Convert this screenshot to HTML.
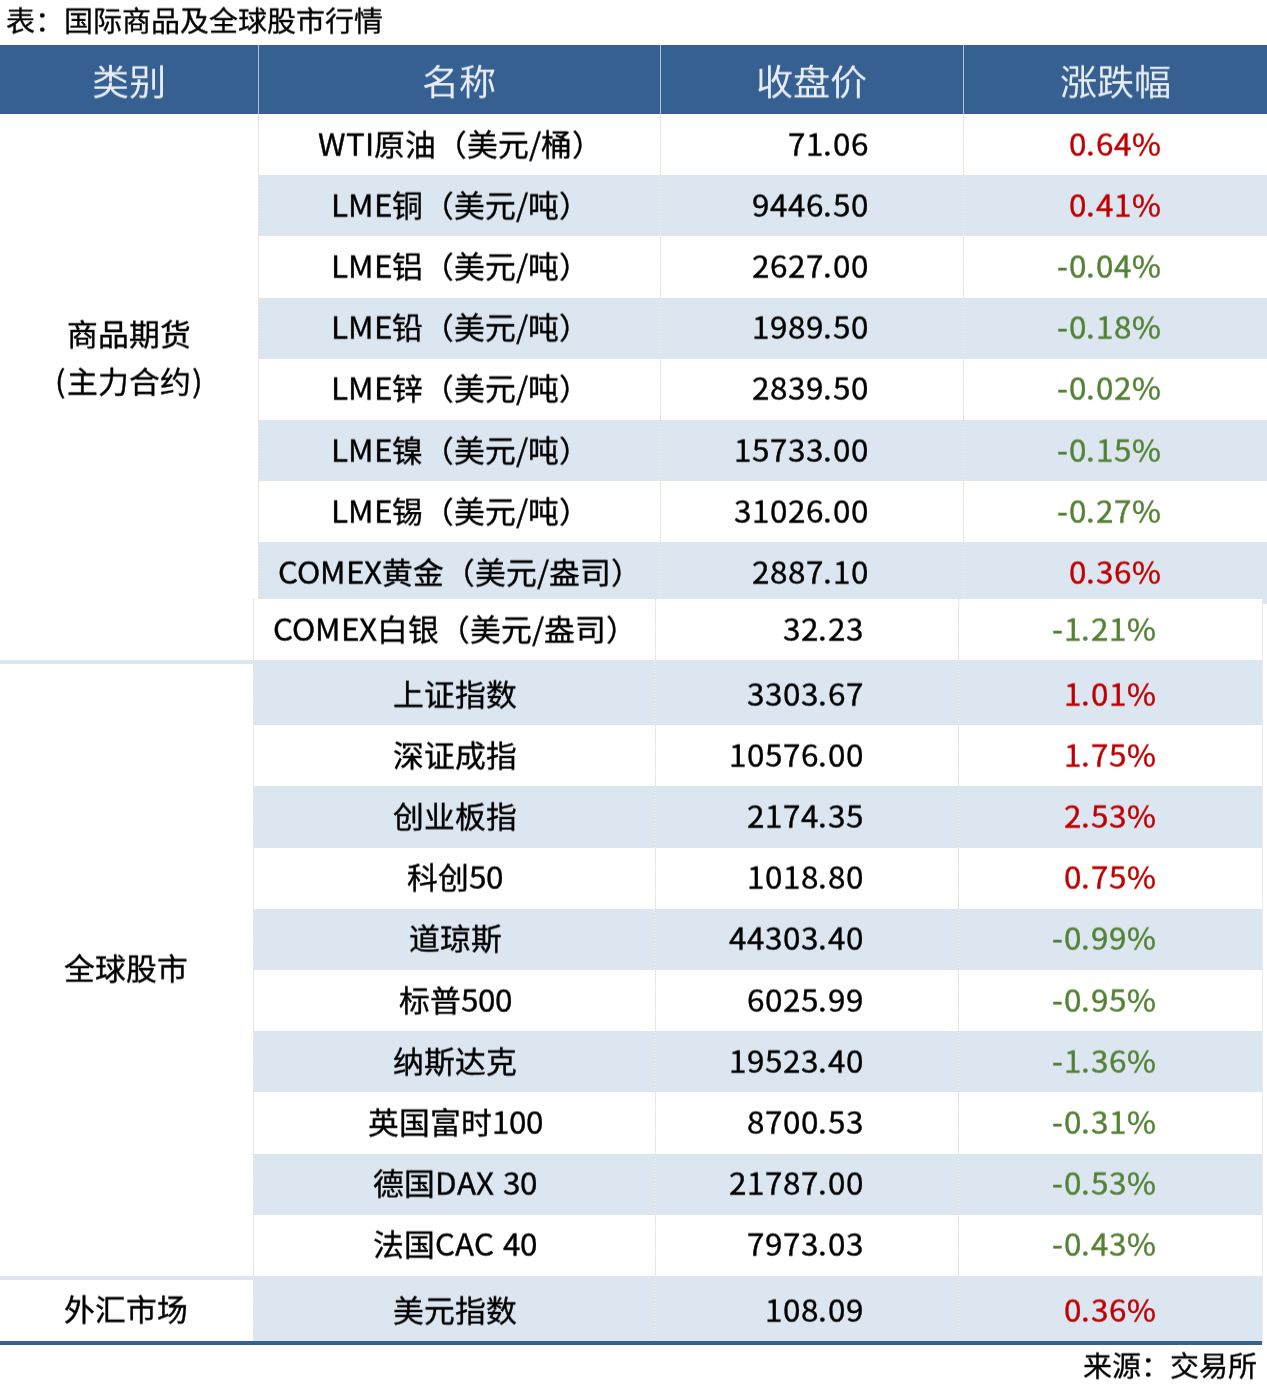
<!DOCTYPE html>
<html lang="zh-CN"><head><meta charset="utf-8"><style>
html,body{margin:0;padding:0;background:#fff;width:1267px;height:1384px;overflow:hidden;position:relative}
body{font-family:"Liberation Sans",sans-serif;color:#000}
.a{position:absolute}
.t{position:absolute;white-space:nowrap;will-change:transform}
.hd{font-family:"Liberation Serif",serif;color:#e8edf4;font-size:37.2px;transform:scaleY(0.96)}
.nm{font-size:30.8px;transform:scaleY(0.965);-webkit-text-stroke:0.4px currentColor}
.num{font-size:30.8px;transform:scaleY(0.965);-webkit-text-stroke:0.4px currentColor}
.p{font-feature-settings:'pwid';font-size:1.02em}
.num .p{letter-spacing:0.85px}
.nopw .p,.nopw .num .p{font-size:1em;letter-spacing:0}
#probe{position:absolute;left:-9999px;top:0;font-size:100px;white-space:nowrap}
</style></head><body>

<div class="t" style="left:6px;top:1.3px;height:42px;line-height:42px;font-size:29px;transform:scaleY(0.965);-webkit-text-stroke:0.35px #000">表：国际商品及全球股市行情</div>
<div class="a" style="left:0.00px;top:45.00px;width:1267.00px;height:69.00px;background:#366092"></div>
<div class="a" style="left:258.00px;top:45.00px;width:1.00px;height:69.00px;background:#b0c3da"></div>
<div class="a" style="left:660.00px;top:45.00px;width:1.00px;height:69.00px;background:#b0c3da"></div>
<div class="a" style="left:963.00px;top:45.00px;width:1.00px;height:69.00px;background:#b0c3da"></div>
<div class="t hd" style="left:-171.00px;width:600px;text-align:center;top:53.80px;height:60px;line-height:60px;">类别</div>
<div class="t hd" style="left:159.00px;width:600px;text-align:center;top:53.80px;height:60px;line-height:60px;">名称</div>
<div class="t hd" style="left:511.00px;width:600px;text-align:center;top:53.80px;height:60px;line-height:60px;">收盘价</div>
<div class="t hd" style="left:815.00px;width:600px;text-align:center;top:53.80px;height:60px;line-height:60px;">涨跌幅</div>
<div class="t nm" style="left:160.00px;width:600px;text-align:center;top:115.60px;height:60px;line-height:60px;"><span class="p">ＷＴＩ</span>原油（美元<span class="p">／</span>桶）</div>
<div class="t num" style="left:469.00px;width:400px;text-align:right;top:115.60px;height:60px;line-height:60px;"><span class="p">７１．０６</span></div>
<div class="t num" style="left:760.50px;width:400px;text-align:right;top:115.60px;height:60px;line-height:60px;color:#c00000"><span class="p">０．６４</span><span class="p" style="letter-spacing:0">％</span></div>
<div class="a" style="left:259.00px;top:175.20px;width:1008.00px;height:61.20px;background:#dce6f1"></div>
<div class="t nm" style="left:160.00px;width:600px;text-align:center;top:176.80px;height:60px;line-height:60px;"><span class="p">ＬＭＥ</span>铜（美元<span class="p">／</span>吨）</div>
<div class="t num" style="left:469.00px;width:400px;text-align:right;top:176.80px;height:60px;line-height:60px;"><span class="p">９４４６．５０</span></div>
<div class="t num" style="left:760.50px;width:400px;text-align:right;top:176.80px;height:60px;line-height:60px;color:#c00000"><span class="p">０．４１</span><span class="p" style="letter-spacing:0">％</span></div>
<div class="t nm" style="left:160.00px;width:600px;text-align:center;top:238.00px;height:60px;line-height:60px;"><span class="p">ＬＭＥ</span>铝（美元<span class="p">／</span>吨）</div>
<div class="t num" style="left:469.00px;width:400px;text-align:right;top:238.00px;height:60px;line-height:60px;"><span class="p">２６２７．００</span></div>
<div class="t num" style="left:760.50px;width:400px;text-align:right;top:238.00px;height:60px;line-height:60px;color:#548235"><span class="p">－０．０４</span><span class="p" style="letter-spacing:0">％</span></div>
<div class="a" style="left:259.00px;top:297.60px;width:1008.00px;height:61.20px;background:#dce6f1"></div>
<div class="t nm" style="left:160.00px;width:600px;text-align:center;top:299.20px;height:60px;line-height:60px;"><span class="p">ＬＭＥ</span>铅（美元<span class="p">／</span>吨）</div>
<div class="t num" style="left:469.00px;width:400px;text-align:right;top:299.20px;height:60px;line-height:60px;"><span class="p">１９８９．５０</span></div>
<div class="t num" style="left:760.50px;width:400px;text-align:right;top:299.20px;height:60px;line-height:60px;color:#548235"><span class="p">－０．１８</span><span class="p" style="letter-spacing:0">％</span></div>
<div class="t nm" style="left:160.00px;width:600px;text-align:center;top:360.40px;height:60px;line-height:60px;"><span class="p">ＬＭＥ</span>锌（美元<span class="p">／</span>吨）</div>
<div class="t num" style="left:469.00px;width:400px;text-align:right;top:360.40px;height:60px;line-height:60px;"><span class="p">２８３９．５０</span></div>
<div class="t num" style="left:760.50px;width:400px;text-align:right;top:360.40px;height:60px;line-height:60px;color:#548235"><span class="p">－０．０２</span><span class="p" style="letter-spacing:0">％</span></div>
<div class="a" style="left:259.00px;top:420.00px;width:1008.00px;height:61.20px;background:#dce6f1"></div>
<div class="t nm" style="left:160.00px;width:600px;text-align:center;top:421.60px;height:60px;line-height:60px;"><span class="p">ＬＭＥ</span>镍（美元<span class="p">／</span>吨）</div>
<div class="t num" style="left:469.00px;width:400px;text-align:right;top:421.60px;height:60px;line-height:60px;"><span class="p">１５７３３．００</span></div>
<div class="t num" style="left:760.50px;width:400px;text-align:right;top:421.60px;height:60px;line-height:60px;color:#548235"><span class="p">－０．１５</span><span class="p" style="letter-spacing:0">％</span></div>
<div class="t nm" style="left:160.00px;width:600px;text-align:center;top:482.80px;height:60px;line-height:60px;"><span class="p">ＬＭＥ</span>锡（美元<span class="p">／</span>吨）</div>
<div class="t num" style="left:469.00px;width:400px;text-align:right;top:482.80px;height:60px;line-height:60px;"><span class="p">３１０２６．００</span></div>
<div class="t num" style="left:760.50px;width:400px;text-align:right;top:482.80px;height:60px;line-height:60px;color:#548235"><span class="p">－０．２７</span><span class="p" style="letter-spacing:0">％</span></div>
<div class="a" style="left:259.00px;top:542.40px;width:1008.00px;height:61.20px;background:#dce6f1"></div>
<div class="t nm" style="left:160.00px;width:600px;text-align:center;top:544.00px;height:60px;line-height:60px;"><span class="p">ＣＯＭＥＸ</span>黄金（美元<span class="p">／</span>盎司）</div>
<div class="t num" style="left:469.00px;width:400px;text-align:right;top:544.00px;height:60px;line-height:60px;"><span class="p">２８８７．１０</span></div>
<div class="t num" style="left:760.50px;width:400px;text-align:right;top:544.00px;height:60px;line-height:60px;color:#c00000"><span class="p">０．３６</span><span class="p" style="letter-spacing:0">％</span></div>
<div class="a" style="left:258.00px;top:114.00px;width:1.00px;height:485.00px;background:repeating-linear-gradient(to bottom,#dadada 0 1.5px,#ededed 1.5px 3px)"></div>
<div class="a" style="left:660.00px;top:114.00px;width:1.00px;height:485.00px;background:repeating-linear-gradient(to bottom,#dadada 0 1.5px,#ededed 1.5px 3px)"></div>
<div class="a" style="left:963.00px;top:114.00px;width:1.00px;height:485.00px;background:repeating-linear-gradient(to bottom,#dadada 0 1.5px,#ededed 1.5px 3px)"></div>
<div class="t nm" style="left:0;width:258px;text-align:center;top:311.2px;line-height:48.5px">商品期货<br><span class="p" style="margin-right:1px">（</span>主力合约<span class="p" style="margin-left:1.5px">）</span></div>
<div class="a" style="left:0.00px;top:599.00px;width:1262.00px;height:785.00px;background:#fff"></div>
<div class="a" style="left:1262.00px;top:604.00px;width:5.00px;height:780.00px;background:#fff"></div>
<div class="t nm" style="left:155.00px;width:600px;text-align:center;top:600.50px;height:60px;line-height:60px;"><span class="p">ＣＯＭＥＸ</span>白银（美元<span class="p">／</span>盎司）</div>
<div class="t num" style="left:464.00px;width:400px;text-align:right;top:600.50px;height:60px;line-height:60px;"><span class="p">３２．２３</span></div>
<div class="t num" style="left:755.50px;width:400px;text-align:right;top:600.50px;height:60px;line-height:60px;color:#548235"><span class="p">－１．２１</span><span class="p" style="letter-spacing:0">％</span></div>
<div class="a" style="left:0.00px;top:660.00px;width:1262.00px;height:4.00px;background:#dce6f1"></div>
<div class="a" style="left:254.00px;top:664.00px;width:1008.00px;height:61.20px;background:#dce6f1"></div>
<div class="t nm" style="left:155.00px;width:600px;text-align:center;top:665.60px;height:60px;line-height:60px;">上证指数</div>
<div class="t num" style="left:464.00px;width:400px;text-align:right;top:665.60px;height:60px;line-height:60px;"><span class="p">３３０３．６７</span></div>
<div class="t num" style="left:755.50px;width:400px;text-align:right;top:665.60px;height:60px;line-height:60px;color:#c00000"><span class="p">１．０１</span><span class="p" style="letter-spacing:0">％</span></div>
<div class="t nm" style="left:155.00px;width:600px;text-align:center;top:726.80px;height:60px;line-height:60px;">深证成指</div>
<div class="t num" style="left:464.00px;width:400px;text-align:right;top:726.80px;height:60px;line-height:60px;"><span class="p">１０５７６．００</span></div>
<div class="t num" style="left:755.50px;width:400px;text-align:right;top:726.80px;height:60px;line-height:60px;color:#c00000"><span class="p">１．７５</span><span class="p" style="letter-spacing:0">％</span></div>
<div class="a" style="left:254.00px;top:786.40px;width:1008.00px;height:61.20px;background:#dce6f1"></div>
<div class="t nm" style="left:155.00px;width:600px;text-align:center;top:788.00px;height:60px;line-height:60px;">创业板指</div>
<div class="t num" style="left:464.00px;width:400px;text-align:right;top:788.00px;height:60px;line-height:60px;"><span class="p">２１７４．３５</span></div>
<div class="t num" style="left:755.50px;width:400px;text-align:right;top:788.00px;height:60px;line-height:60px;color:#c00000"><span class="p">２．５３</span><span class="p" style="letter-spacing:0">％</span></div>
<div class="t nm" style="left:155.00px;width:600px;text-align:center;top:849.20px;height:60px;line-height:60px;">科创<span class="p">５０</span></div>
<div class="t num" style="left:464.00px;width:400px;text-align:right;top:849.20px;height:60px;line-height:60px;"><span class="p">１０１８．８０</span></div>
<div class="t num" style="left:755.50px;width:400px;text-align:right;top:849.20px;height:60px;line-height:60px;color:#c00000"><span class="p">０．７５</span><span class="p" style="letter-spacing:0">％</span></div>
<div class="a" style="left:254.00px;top:908.80px;width:1008.00px;height:61.20px;background:#dce6f1"></div>
<div class="t nm" style="left:155.00px;width:600px;text-align:center;top:910.40px;height:60px;line-height:60px;">道琼斯</div>
<div class="t num" style="left:464.00px;width:400px;text-align:right;top:910.40px;height:60px;line-height:60px;"><span class="p">４４３０３．４０</span></div>
<div class="t num" style="left:755.50px;width:400px;text-align:right;top:910.40px;height:60px;line-height:60px;color:#548235"><span class="p">－０．９９</span><span class="p" style="letter-spacing:0">％</span></div>
<div class="t nm" style="left:155.00px;width:600px;text-align:center;top:971.60px;height:60px;line-height:60px;">标普<span class="p">５００</span></div>
<div class="t num" style="left:464.00px;width:400px;text-align:right;top:971.60px;height:60px;line-height:60px;"><span class="p">６０２５．９９</span></div>
<div class="t num" style="left:755.50px;width:400px;text-align:right;top:971.60px;height:60px;line-height:60px;color:#548235"><span class="p">－０．９５</span><span class="p" style="letter-spacing:0">％</span></div>
<div class="a" style="left:254.00px;top:1031.20px;width:1008.00px;height:61.20px;background:#dce6f1"></div>
<div class="t nm" style="left:155.00px;width:600px;text-align:center;top:1032.80px;height:60px;line-height:60px;">纳斯达克</div>
<div class="t num" style="left:464.00px;width:400px;text-align:right;top:1032.80px;height:60px;line-height:60px;"><span class="p">１９５２３．４０</span></div>
<div class="t num" style="left:755.50px;width:400px;text-align:right;top:1032.80px;height:60px;line-height:60px;color:#548235"><span class="p">－１．３６</span><span class="p" style="letter-spacing:0">％</span></div>
<div class="t nm" style="left:155.00px;width:600px;text-align:center;top:1094.00px;height:60px;line-height:60px;">英国富时<span class="p">１００</span></div>
<div class="t num" style="left:464.00px;width:400px;text-align:right;top:1094.00px;height:60px;line-height:60px;"><span class="p">８７００．５３</span></div>
<div class="t num" style="left:755.50px;width:400px;text-align:right;top:1094.00px;height:60px;line-height:60px;color:#548235"><span class="p">－０．３１</span><span class="p" style="letter-spacing:0">％</span></div>
<div class="a" style="left:254.00px;top:1153.60px;width:1008.00px;height:61.20px;background:#dce6f1"></div>
<div class="t nm" style="left:155.00px;width:600px;text-align:center;top:1155.20px;height:60px;line-height:60px;">德国<span class="p">ＤＡＸ ３０</span></div>
<div class="t num" style="left:464.00px;width:400px;text-align:right;top:1155.20px;height:60px;line-height:60px;"><span class="p">２１７８７．００</span></div>
<div class="t num" style="left:755.50px;width:400px;text-align:right;top:1155.20px;height:60px;line-height:60px;color:#548235"><span class="p">－０．５３</span><span class="p" style="letter-spacing:0">％</span></div>
<div class="t nm" style="left:155.00px;width:600px;text-align:center;top:1216.40px;height:60px;line-height:60px;">法国<span class="p">ＣＡＣ ４０</span></div>
<div class="t num" style="left:464.00px;width:400px;text-align:right;top:1216.40px;height:60px;line-height:60px;"><span class="p">７９７３．０３</span></div>
<div class="t num" style="left:755.50px;width:400px;text-align:right;top:1216.40px;height:60px;line-height:60px;color:#548235"><span class="p">－０．４３</span><span class="p" style="letter-spacing:0">％</span></div>
<div class="a" style="left:0.00px;top:1276.00px;width:1262.00px;height:4.00px;background:#dce6f1"></div>
<div class="a" style="left:254.00px;top:1280.00px;width:1008.00px;height:61.20px;background:#dce6f1"></div>
<div class="t nm" style="left:155.00px;width:600px;text-align:center;top:1281.60px;height:60px;line-height:60px;">美元指数</div>
<div class="t num" style="left:464.00px;width:400px;text-align:right;top:1281.60px;height:60px;line-height:60px;"><span class="p">１０８．０９</span></div>
<div class="t num" style="left:755.50px;width:400px;text-align:right;top:1281.60px;height:60px;line-height:60px;color:#c00000"><span class="p">０．３６</span><span class="p" style="letter-spacing:0">％</span></div>
<div class="a" style="left:253.00px;top:599.00px;width:1.00px;height:742.00px;background:repeating-linear-gradient(to bottom,#dadada 0 1.5px,#ededed 1.5px 3px)"></div>
<div class="a" style="left:655.00px;top:599.00px;width:1.00px;height:742.00px;background:repeating-linear-gradient(to bottom,#dadada 0 1.5px,#ededed 1.5px 3px)"></div>
<div class="a" style="left:958.00px;top:599.00px;width:1.00px;height:742.00px;background:repeating-linear-gradient(to bottom,#dadada 0 1.5px,#ededed 1.5px 3px)"></div>
<div class="a" style="left:1262.00px;top:599.00px;width:1.00px;height:742.00px;background:#e8ecf2"></div>
<div class="t nm" style="left:-1.5px;width:253px;text-align:center;top:940px;line-height:60px">全球股市</div>
<div class="t nm" style="left:-1.5px;width:253px;text-align:center;top:1280.5px;line-height:60px">外汇市场</div>
<div class="a" style="left:0.00px;top:1341.00px;width:1262.00px;height:4.00px;background:#366092"></div>
<div class="t" style="left:857px;width:400px;text-align:right;top:1347px;height:40px;line-height:40px;font-size:29px;transform:scaleY(0.965);-webkit-text-stroke:0.35px #000">来源：交易所</div>
<span id="probe"><span class="p" id="pa">ｉｉｉｉ</span><span id="pb">&#x10FFFD;&#x10FFFD;&#x10FFFD;&#x10FFFD;</span></span>
<script>
(function(){try{
var a=document.getElementById('pa').getBoundingClientRect().width,
    b=document.getElementById('pb').getBoundingClientRect().width;
if(a>=250||Math.abs(a-b)<1){
  document.documentElement.className+=' nopw';
  var sp=document.querySelectorAll('.p');
  for(var i=0;i<sp.length;i++){
    var t=sp[i].textContent,o='';
    for(var j=0;j<t.length;j++){var c=t.charCodeAt(j);o+=(c>=0xFF01&&c<=0xFF5E)?String.fromCharCode(c-0xFEE0):t.charAt(j);}
    sp[i].textContent=o;
  }
}
var pr=document.getElementById('probe');pr.parentNode.removeChild(pr);
}catch(e){}})();
</script>
</body></html>
